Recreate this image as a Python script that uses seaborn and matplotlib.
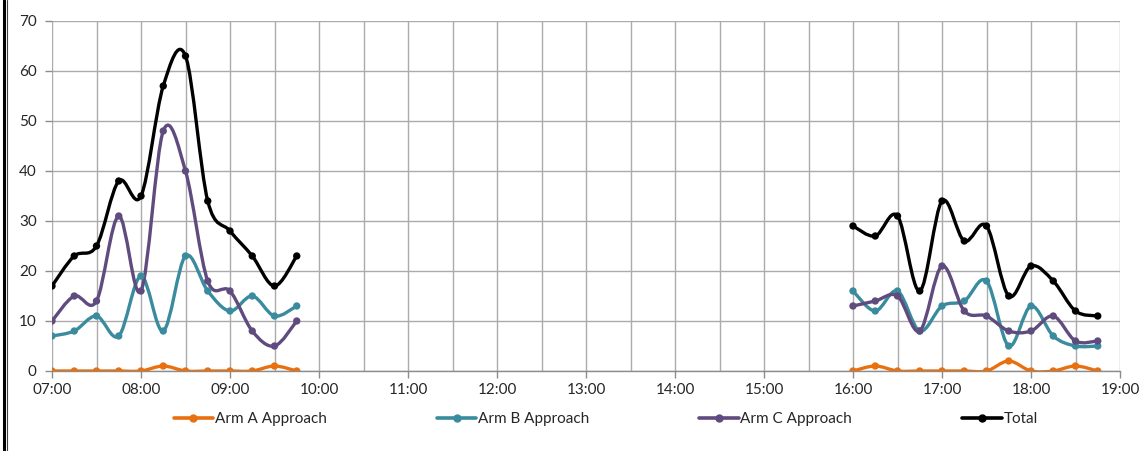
import numpy as np
import pandas as pd
import matplotlib
matplotlib.use("Agg")
import matplotlib.pyplot as plt
import seaborn as sns
from matplotlib.path import Path
from matplotlib.patches import PathPatch
from matplotlib.lines import Line2D

# time slots (15 min counts), morning and evening peaks
am_times = ["07:00", "07:15", "07:30", "07:45", "08:00", "08:15",
            "08:30", "08:45", "09:00", "09:15", "09:30", "09:45"]
pm_times = ["16:00", "16:15", "16:30", "16:45", "17:00", "17:15",
            "17:30", "17:45", "18:00", "18:15", "18:30", "18:45"]

arm_a_am = [0, 0, 0, 0, 0, 1, 0, 0, 0, 0, 1, 0]
arm_b_am = [7, 8, 11, 7, 19, 8, 23, 16, 12, 15, 11, 13]
arm_c_am = [10, 15, 14, 31, 16, 48, 40, 18, 16, 8, 5, 10]
total_am = [17, 23, 25, 38, 35, 57, 63, 34, 28, 23, 17, 23]

arm_a_pm = [0, 1, 0, 0, 0, 0, 0, 2, 0, 0, 1, 0]
arm_b_pm = [16, 12, 16, 8, 13, 14, 18, 5, 13, 7, 5, 5]
arm_c_pm = [13, 14, 15, 8, 21, 12, 11, 8, 8, 11, 6, 6]
total_pm = [29, 27, 31, 16, 34, 26, 29, 15, 21, 18, 12, 11]

series_names = ["Arm A Approach", "Arm B Approach", "Arm C Approach", "Total"]
colors = {"Arm A Approach": "#E8700F", "Arm B Approach": "#3A8B9E",
          "Arm C Approach": "#5F4B7E", "Total": "#000000"}


def to_hours(t):
    h, m = t.split(":")
    return int(h) + int(m) / 60


rows = []
for times, vals in [(am_times, [arm_a_am, arm_b_am, arm_c_am, total_am]),
                    (pm_times, [arm_a_pm, arm_b_pm, arm_c_pm, total_pm])]:
    seg = times[0]
    for name, v in zip(series_names, vals):
        for t, y in zip(times, v):
            rows.append({"hour": to_hours(t), "count": y, "series": name, "segment": seg})
df = pd.DataFrame(rows)

sns.set_theme(style="white")
plt.rcParams["font.family"] = ["Lato", "DejaVu Sans"]

fig = plt.figure(figsize=(11.47, 4.51), dpi=100)
ax = fig.add_axes([52 / 1147, 1 - 371 / 451, (1120 - 52) / 1147, 350 / 451])


def smooth_path(x, y):
    # Excel-style smoothed line: Catmull-Rom as cubic Bezier segments
    x = np.asarray(x, float)
    y = np.asarray(y, float)
    n = len(x)
    verts = [(x[0], y[0])]
    codes = [Path.MOVETO]
    for i in range(n - 1):
        i0 = max(i - 1, 0)
        i3 = min(i + 2, n - 1)
        c1 = (x[i] + (x[i + 1] - x[i0]) / 6, y[i] + (y[i + 1] - y[i0]) / 6)
        c2 = (x[i + 1] - (x[i3] - x[i]) / 6, y[i + 1] - (y[i3] - y[i]) / 6)
        verts += [c1, c2, (x[i + 1], y[i + 1])]
        codes += [Path.CURVE4] * 3
    return Path(verts, codes)


for name in series_names:
    for seg, d in df[df["series"] == name].groupby("segment"):
        p = PathPatch(smooth_path(d["hour"], d["count"]), facecolor="none",
                      edgecolor=colors[name], lw=2.4, zorder=3,
                      capstyle="round", joinstyle="round")
        ax.add_patch(p)

sns.scatterplot(data=df, x="hour", y="count", hue="series", palette=colors,
                hue_order=series_names, s=28, edgecolor="none", zorder=4,
                legend=False, ax=ax)

ax.set_xlim(7, 19)
ax.set_ylim(0, 70)
ax.set_xticks(np.arange(7, 19.01, 1))
ax.set_xticks(np.arange(7, 19.01, 0.5), minor=True)
ax.set_xticklabels([f"{h:02d}:00" for h in range(7, 20)])
ax.set_yticks(np.arange(0, 71, 10))
ax.grid(True, which="both", axis="x", color="#ABABAB", lw=1)
ax.grid(True, which="major", axis="y", color="#ABABAB", lw=1)
ax.set_axisbelow(True)
ax.tick_params(axis="x", which="major", direction="out", length=5, width=1,
               color="#8C8C8C", labelsize=11, pad=4, bottom=True)
ax.tick_params(axis="x", which="minor", length=0)
ax.tick_params(axis="y", direction="out", length=5, width=1, color="#8C8C8C",
               labelsize=11, pad=6, left=True)
for s in ["top", "right", "left"]:
    ax.spines[s].set_visible(False)
ax.spines["bottom"].set_color("#8C8C8C")
ax.spines["bottom"].set_linewidth(1)
ax.set_xlabel("")
ax.set_ylabel("")

handles = [Line2D([0], [0], color=colors[n], lw=2.6, marker="o", markersize=5)
           for n in series_names]
fig.legend(handles, series_names, loc="center", bbox_to_anchor=(0.528, 0.071),
           ncol=4, frameon=False, fontsize=11, handlelength=2.6,
           handletextpad=0.1, columnspacing=7.2)

# double border at the left edge
fig.add_artist(Line2D([3.5 / 1147, 3.5 / 1147], [0, 1], color="black", lw=2.2,
                      transform=fig.transFigure))
fig.add_artist(Line2D([6.5 / 1147, 6.5 / 1147], [0, 1], color="#404040", lw=0.8,
                      transform=fig.transFigure))

fig.savefig("out.png", dpi=100)
